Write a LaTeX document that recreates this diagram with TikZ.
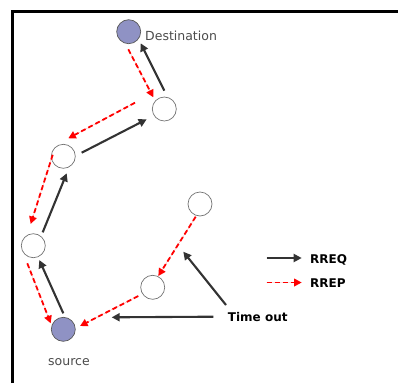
\documentclass[tikz,border=0pt]{standalone}
\usepackage{fontspec}
\setmainfont{DejaVu Sans}
\usetikzlibrary{arrows.meta}
\definecolor{hostfill}{RGB}{143,146,196}
\definecolor{reqgray}{RGB}{51,51,51}
\begin{document}
\begin{tikzpicture}[
      x=1pt,y=-1pt,
      hop/.style={circle,draw=black!55,line width=0.7pt,fill=white,minimum size=24pt,inner sep=0pt},
      host/.style={hop,fill=hostfill,draw=black!65},
      rreq/.style={-{Triangle[length=8pt,width=8pt]},line width=2.1pt,draw=reqgray,fill=reqgray},
      rrep/.style={-{Triangle[length=7.5pt,width=7.5pt]},line width=1.8pt,draw=red,fill=red,dash pattern=on 5pt off 3pt},
      lbl/.style={anchor=base west,inner sep=0pt,font=\fontsize{12.5}{14}\selectfont,text=black!70},
      key/.style={anchor=base west,inner sep=0pt,font=\fontsize{12}{14}\selectfont\bfseries}
    ]
    \useasboundingbox[fill=white] (0,0) rectangle (398,383);
    \draw[line width=2.8pt] (12.5,383) -- (12.5,11.3) -- (398,11.3);
    % nodes
    \node[host] (dst) at (128.7,31.7) {};
    \node[hop] (h1) at (164.3,109) {};
    \node[hop] (h2) at (63.3,156.3) {};
    \node[hop] (h3) at (33.3,245.7) {};
    \node[host] (src) at (63.3,329.3) {};
    \node[hop] (h4) at (200,204) {};
    \node[hop] (h5) at (152.7,287.3) {};
    \node[lbl] (ldst) at (145,40.7) {Destination};
    \node[lbl] (lsrc) at (48,365) {source};
    % legend and time out
    \node[key] (lreq) at (310,263) {RREQ};
    \node[key] (lrep) at (310,287.3) {RREP};
    \node[key] (tout) at (227.7,321.7) {Time out};
    \coordinate (kreq) at (266.7,258);
    \coordinate (krep) at (266.7,282.5);
    \coordinate (tup) at (183.3,251.7);
    \coordinate (tleft) at (111.7,317.3);
    % RREQ
    \draw[rreq] ([shift={(0,-16)}]src.center) -- ([shift={(6,14.3)}]h3.center);
    \draw[rreq] ([shift={(9.4,-13.4)}]h3.center) -- ([shift={(3.4,17)}]h2.center);
    \draw[rreq] ([shift={(18.4,-3.6)}]h2.center) -- ([shift={(-17.6,10.3)}]h1.center);
    \draw[rreq] ([shift={(0,-18.3)}]h1.center) -- ([shift={(12,11.6)}]dst.center);
    % RREP
    \draw[rrep] ([shift={(-0.4,17.6)}]dst.center) -- ([shift={(-11,-11.7)}]h1.center);
    \draw[rrep] ([shift={(-29.3,-6.3)}]h1.center) -- ([shift={(5,-18)}]h2.center);
    \draw[rrep] ([shift={(-10.6,-1.5)}]h2.center) -- ([shift={(-2.6,-21.7)}]h3.center);
    \draw[rrep] ([shift={(-6,17.6)}]h3.center) -- ([shift={(-12.6,-6)}]src.center);
    \draw[rrep] ([shift={(-4.3,12.7)}]h4.center) -- ([shift={(5.6,-11.3)}]h5.center);
    \draw[rrep] ([shift={(-14.4,8.7)}]h5.center) -- ([shift={(16.7,-3.3)}]src.center);
    % time out
    \draw[rreq] ([shift={(-1.7,-16.7)}]tout.base west) -- (tup);
    \draw[rreq] ([shift={(-14.4,-5)}]tout.base west) -- (tleft);
    % legend arrows
    \draw[rreq] (kreq) -- ([shift={(-8.3,-5)}]lreq.base west);
    \draw[rrep] (krep) -- ([shift={(-8.3,-4.8)}]lrep.base west);
  \end{tikzpicture}
\end{document}
